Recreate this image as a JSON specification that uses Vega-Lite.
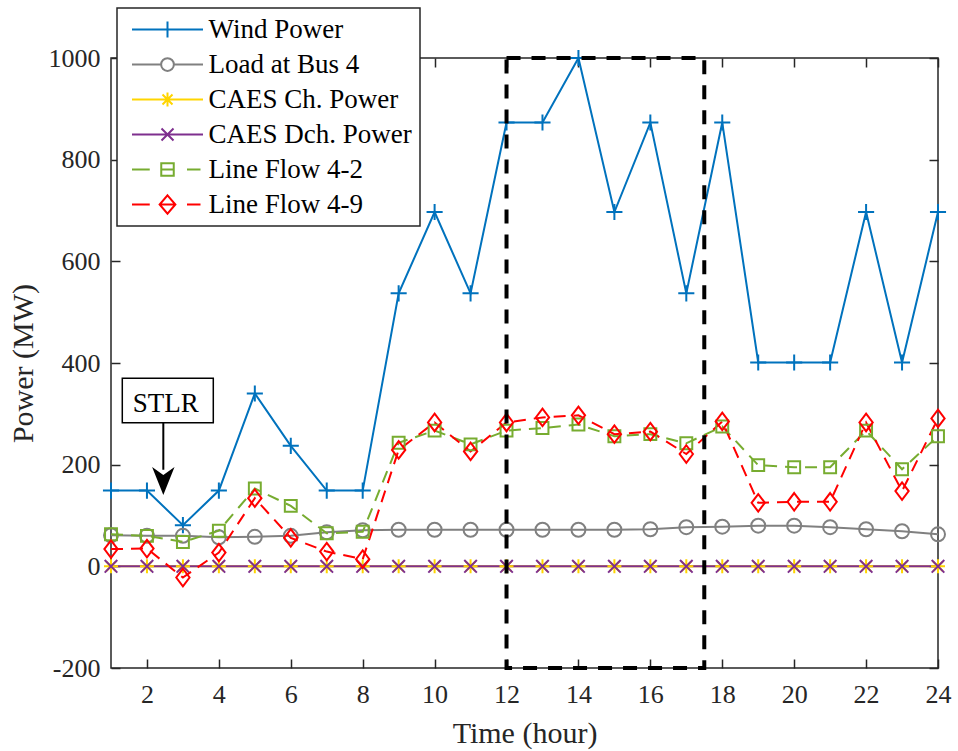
{
  "$schema": "https://vega.github.io/schema/vega-lite/v6.json",
  "width": 827,
  "height": 610,
  "autosize": {"type": "none"},
  "padding": {"left": 111, "top": 58, "right": 20, "bottom": 83},
  "background": "white",
  "config": {
    "font": "Liberation Serif",
    "view": {"stroke": "#262626", "strokeWidth": 1.5}
  },
  "datasets": {
    "series": [
      {"h":1,"s":"Wind Power","v":149},{"h":2,"s":"Wind Power","v":149},{"h":3,"s":"Wind Power","v":81},{"h":4,"s":"Wind Power","v":149},{"h":5,"s":"Wind Power","v":340},{"h":6,"s":"Wind Power","v":237},{"h":7,"s":"Wind Power","v":149},{"h":8,"s":"Wind Power","v":149},{"h":9,"s":"Wind Power","v":537},{"h":10,"s":"Wind Power","v":697},{"h":11,"s":"Wind Power","v":537},{"h":12,"s":"Wind Power","v":873},{"h":13,"s":"Wind Power","v":873},{"h":14,"s":"Wind Power","v":1000},{"h":15,"s":"Wind Power","v":697},{"h":16,"s":"Wind Power","v":873},{"h":17,"s":"Wind Power","v":537},{"h":18,"s":"Wind Power","v":873},{"h":19,"s":"Wind Power","v":401},{"h":20,"s":"Wind Power","v":401},{"h":21,"s":"Wind Power","v":401},{"h":22,"s":"Wind Power","v":697},{"h":23,"s":"Wind Power","v":401},{"h":24,"s":"Wind Power","v":697},
      {"h":1,"s":"Load at Bus 4","v":61},{"h":2,"s":"Load at Bus 4","v":60},{"h":3,"s":"Load at Bus 4","v":60},{"h":4,"s":"Load at Bus 4","v":57},{"h":5,"s":"Load at Bus 4","v":58},{"h":6,"s":"Load at Bus 4","v":60},{"h":7,"s":"Load at Bus 4","v":67},{"h":8,"s":"Load at Bus 4","v":71},{"h":9,"s":"Load at Bus 4","v":72},{"h":10,"s":"Load at Bus 4","v":72},{"h":11,"s":"Load at Bus 4","v":72},{"h":12,"s":"Load at Bus 4","v":72},{"h":13,"s":"Load at Bus 4","v":72},{"h":14,"s":"Load at Bus 4","v":72},{"h":15,"s":"Load at Bus 4","v":72},{"h":16,"s":"Load at Bus 4","v":73},{"h":17,"s":"Load at Bus 4","v":77},{"h":18,"s":"Load at Bus 4","v":78},{"h":19,"s":"Load at Bus 4","v":80},{"h":20,"s":"Load at Bus 4","v":80},{"h":21,"s":"Load at Bus 4","v":77},{"h":22,"s":"Load at Bus 4","v":73},{"h":23,"s":"Load at Bus 4","v":69},{"h":24,"s":"Load at Bus 4","v":63},
      {"h":1,"s":"CAES Ch. Power","v":0},{"h":2,"s":"CAES Ch. Power","v":0},{"h":3,"s":"CAES Ch. Power","v":0},{"h":4,"s":"CAES Ch. Power","v":0},{"h":5,"s":"CAES Ch. Power","v":0},{"h":6,"s":"CAES Ch. Power","v":0},{"h":7,"s":"CAES Ch. Power","v":0},{"h":8,"s":"CAES Ch. Power","v":0},{"h":9,"s":"CAES Ch. Power","v":0},{"h":10,"s":"CAES Ch. Power","v":0},{"h":11,"s":"CAES Ch. Power","v":0},{"h":12,"s":"CAES Ch. Power","v":0},{"h":13,"s":"CAES Ch. Power","v":0},{"h":14,"s":"CAES Ch. Power","v":0},{"h":15,"s":"CAES Ch. Power","v":0},{"h":16,"s":"CAES Ch. Power","v":0},{"h":17,"s":"CAES Ch. Power","v":0},{"h":18,"s":"CAES Ch. Power","v":0},{"h":19,"s":"CAES Ch. Power","v":0},{"h":20,"s":"CAES Ch. Power","v":0},{"h":21,"s":"CAES Ch. Power","v":0},{"h":22,"s":"CAES Ch. Power","v":0},{"h":23,"s":"CAES Ch. Power","v":0},{"h":24,"s":"CAES Ch. Power","v":0},
      {"h":1,"s":"CAES Dch. Power","v":0},{"h":2,"s":"CAES Dch. Power","v":0},{"h":3,"s":"CAES Dch. Power","v":0},{"h":4,"s":"CAES Dch. Power","v":0},{"h":5,"s":"CAES Dch. Power","v":0},{"h":6,"s":"CAES Dch. Power","v":0},{"h":7,"s":"CAES Dch. Power","v":0},{"h":8,"s":"CAES Dch. Power","v":0},{"h":9,"s":"CAES Dch. Power","v":0},{"h":10,"s":"CAES Dch. Power","v":0},{"h":11,"s":"CAES Dch. Power","v":0},{"h":12,"s":"CAES Dch. Power","v":0},{"h":13,"s":"CAES Dch. Power","v":0},{"h":14,"s":"CAES Dch. Power","v":0},{"h":15,"s":"CAES Dch. Power","v":0},{"h":16,"s":"CAES Dch. Power","v":0},{"h":17,"s":"CAES Dch. Power","v":0},{"h":18,"s":"CAES Dch. Power","v":0},{"h":19,"s":"CAES Dch. Power","v":0},{"h":20,"s":"CAES Dch. Power","v":0},{"h":21,"s":"CAES Dch. Power","v":0},{"h":22,"s":"CAES Dch. Power","v":0},{"h":23,"s":"CAES Dch. Power","v":0},{"h":24,"s":"CAES Dch. Power","v":0},
      {"h":1,"s":"Line Flow 4-2","v":63},{"h":2,"s":"Line Flow 4-2","v":60},{"h":3,"s":"Line Flow 4-2","v":48},{"h":4,"s":"Line Flow 4-2","v":70},{"h":5,"s":"Line Flow 4-2","v":153},{"h":6,"s":"Line Flow 4-2","v":119},{"h":7,"s":"Line Flow 4-2","v":65},{"h":8,"s":"Line Flow 4-2","v":68},{"h":9,"s":"Line Flow 4-2","v":243},{"h":10,"s":"Line Flow 4-2","v":267},{"h":11,"s":"Line Flow 4-2","v":240},{"h":12,"s":"Line Flow 4-2","v":267},{"h":13,"s":"Line Flow 4-2","v":272},{"h":14,"s":"Line Flow 4-2","v":279},{"h":15,"s":"Line Flow 4-2","v":256},{"h":16,"s":"Line Flow 4-2","v":260},{"h":17,"s":"Line Flow 4-2","v":242},{"h":18,"s":"Line Flow 4-2","v":275},{"h":19,"s":"Line Flow 4-2","v":199},{"h":20,"s":"Line Flow 4-2","v":195},{"h":21,"s":"Line Flow 4-2","v":195},{"h":22,"s":"Line Flow 4-2","v":267},{"h":23,"s":"Line Flow 4-2","v":191},{"h":24,"s":"Line Flow 4-2","v":256},
      {"h":1,"s":"Line Flow 4-9","v":34},{"h":2,"s":"Line Flow 4-9","v":35},{"h":3,"s":"Line Flow 4-9","v":-22},{"h":4,"s":"Line Flow 4-9","v":27},{"h":5,"s":"Line Flow 4-9","v":134},{"h":6,"s":"Line Flow 4-9","v":56},{"h":7,"s":"Line Flow 4-9","v":29},{"h":8,"s":"Line Flow 4-9","v":14},{"h":9,"s":"Line Flow 4-9","v":229},{"h":10,"s":"Line Flow 4-9","v":283},{"h":11,"s":"Line Flow 4-9","v":226},{"h":12,"s":"Line Flow 4-9","v":283},{"h":13,"s":"Line Flow 4-9","v":293},{"h":14,"s":"Line Flow 4-9","v":297},{"h":15,"s":"Line Flow 4-9","v":260},{"h":16,"s":"Line Flow 4-9","v":265},{"h":17,"s":"Line Flow 4-9","v":221},{"h":18,"s":"Line Flow 4-9","v":285},{"h":19,"s":"Line Flow 4-9","v":125},{"h":20,"s":"Line Flow 4-9","v":127},{"h":21,"s":"Line Flow 4-9","v":127},{"h":22,"s":"Line Flow 4-9","v":283},{"h":23,"s":"Line Flow 4-9","v":148},{"h":24,"s":"Line Flow 4-9","v":291}
    ],
    "box": [{"x1":12,"x2":17.5,"y1":-200,"y2":1000}],
    "label": [{"x1":1.314,"x2":3.845,"y1":282.6,"y2":369.9,"tx":2.52,"ty":304,"text":"STLR","ax":2.455,"ay1":282.6,"ay2":190,"hy":168}]
  },
  "layer": [
    {
      "data": {"name": "series"},
      "transform": [{"filter": {"field": "s", "oneOf": ["Wind Power","Load at Bus 4","CAES Ch. Power","CAES Dch. Power"]}}],
      "mark": {"type": "line", "strokeWidth": 2},
      "encoding": {
        "x": {"field": "h", "type": "quantitative",
          "scale": {"domain": [1, 24], "nice": false, "zero": false},
          "axis": {"orient": "bottom", "values": [2,4,6,8,10,12,14,16,18,20,22,24], "tickSize": -9, "tickWidth": 1.5, "tickColor": "#262626", "domain": false, "grid": false,
            "labelFont": "Liberation Serif", "labelFontSize": 26, "labelColor": "#262626", "labelPadding": 22.6, "labelFlush": false,
            "title": "Time (hour)", "titleFont": "Liberation Serif", "titleFontSize": 30, "titleFontWeight": "normal", "titleColor": "#262626", "titleBaseline": "alphabetic", "titleY": 74}},
        "y": {"field": "v", "type": "quantitative",
          "scale": {"domain": [-200, 1000], "nice": false, "zero": false},
          "axis": {"orient": "left", "values": [-200,0,200,400,600,800,1000], "labelExpr": "'' + datum.value", "tickSize": -9, "tickWidth": 1.5, "tickColor": "#262626", "domain": false, "grid": false,
            "labelFont": "Liberation Serif", "labelFontSize": 26, "labelColor": "#262626", "labelPadding": 20, "labelFlush": false,
            "title": "Power (MW)", "titleFont": "Liberation Serif", "titleFontSize": 30, "titleFontWeight": "normal", "titleColor": "#262626", "titleBaseline": "alphabetic", "titleAngle": -90, "titleX": -79, "titleY": 305, "titleAlign": "center"}},
        "color": {"field": "s", "type": "nominal",
          "scale": {"domain": ["Wind Power","Load at Bus 4","CAES Ch. Power","CAES Dch. Power","Line Flow 4-2","Line Flow 4-9"],
                    "range": ["#0072BD","#808080","#FFD500","#7E2F8E","#77AC30","#FF0000"]},
          "legend": {"title": null, "orient": "none", "legendX": 6, "legendY": -50, "direction": "vertical",
            "padding": 8, "fillColor": "white", "strokeColor": "#262626",
            "symbolSize": 625, "symbolStrokeWidth": 2, "symbolOffset": 29, "labelOffset": 27.5,
            "labelFont": "Liberation Serif", "labelFontSize": 27, "labelColor": "black", "labelLimit": 0, "rowPadding": 7,
            "encode": {
              "legend": {"update": {"strokeWidth": {"value": 1.5}}},
              "symbols": {"update": {
                "fill": {"value": "transparent"},
                "shape": {"signal": "datum.value === 'Wind Power' ? 'M-2.84,0H2.84M0,-0.64V0.64' : datum.value === 'Load at Bus 4' ? 'M-2.84,0H-0.51M0.51,0H2.84M0.51,0A0.51,0.51,0,1,1,-0.51,0A0.51,0.51,0,1,1,0.51,0' : datum.value === 'CAES Ch. Power' ? 'M-2.84,0H2.84M0,-0.56V0.56M-0.4,-0.4L0.4,0.4M-0.4,0.4L0.4,-0.4' : datum.value === 'CAES Dch. Power' ? 'M-2.84,0H2.84M-0.48,-0.48L0.48,0.48M-0.48,0.48L0.48,-0.48' : datum.value === 'Line Flow 4-2' ? 'M-2.84,0H-1.42M-0.5,0H0.5M1.56,0H2.64M-0.5,-0.5H0.5V0.5H-0.5Z' : 'M-2.84,0H-1.42M-0.63,0H0.63M1.56,0H2.64M0,-0.73L0.63,0L0,0.73L-0.63,0Z'"}
              }}
            }}}
      }
    },
    {
      "data": {"name": "series"},
      "transform": [{"filter": {"field": "s", "equal": "Wind Power"}}],
      "mark": {"type": "point", "filled": false, "strokeWidth": 2, "size": 196, "opacity": 1, "color": "#0072BD", "shape": "M-1.15,0H1.15M0,-1.15V1.15"},
      "encoding": {"x": {"field": "h", "type": "quantitative", "axis": null}, "y": {"field": "v", "type": "quantitative", "axis": null}}
    },
    {
      "data": {"name": "series"},
      "transform": [{"filter": {"field": "s", "equal": "Load at Bus 4"}}],
      "mark": {"type": "point", "filled": false, "strokeWidth": 2, "size": 196, "opacity": 1, "color": "#808080", "shape": "circle"},
      "encoding": {"x": {"field": "h", "type": "quantitative", "axis": null}, "y": {"field": "v", "type": "quantitative", "axis": null}}
    },
    {
      "data": {"name": "series"},
      "transform": [{"filter": {"field": "s", "equal": "CAES Ch. Power"}}],
      "mark": {"type": "point", "filled": false, "strokeWidth": 2, "size": 196, "opacity": 1, "color": "#FFD500", "shape": "M0,-1V1M-1,0H1M-0.7,-0.7L0.7,0.7M-0.7,0.7L0.7,-0.7"},
      "encoding": {"x": {"field": "h", "type": "quantitative", "axis": null}, "y": {"field": "v", "type": "quantitative", "axis": null}}
    },
    {
      "data": {"name": "series"},
      "transform": [{"filter": {"field": "s", "equal": "CAES Dch. Power"}}],
      "mark": {"type": "point", "filled": false, "strokeWidth": 2, "size": 196, "opacity": 1, "color": "#7E2F8E", "shape": "M-0.9,-0.9L0.9,0.9M-0.9,0.9L0.9,-0.9"},
      "encoding": {"x": {"field": "h", "type": "quantitative", "axis": null}, "y": {"field": "v", "type": "quantitative", "axis": null}}
    },
    {
      "data": {"name": "series"},
      "transform": [{"filter": {"field": "s", "oneOf": ["Line Flow 4-2","Line Flow 4-9"]}}],
      "mark": {"type": "line", "strokeWidth": 2, "strokeDash": [12, 8]},
      "encoding": {
        "x": {"field": "h", "type": "quantitative", "axis": null},
        "y": {"field": "v", "type": "quantitative", "axis": null},
        "color": {"field": "s", "type": "nominal"}
      }
    },
    {
      "data": {"name": "series"},
      "transform": [{"filter": {"field": "s", "equal": "Line Flow 4-2"}}],
      "mark": {"type": "point", "filled": false, "strokeWidth": 2, "size": 196, "opacity": 1, "color": "#77AC30", "shape": "M-0.85,-0.85H0.85V0.85H-0.85Z"},
      "encoding": {"x": {"field": "h", "type": "quantitative", "axis": null}, "y": {"field": "v", "type": "quantitative", "axis": null}}
    },
    {
      "data": {"name": "series"},
      "transform": [{"filter": {"field": "s", "equal": "Line Flow 4-9"}}],
      "mark": {"type": "point", "filled": false, "strokeWidth": 2, "size": 196, "opacity": 1, "color": "#FF0000", "shape": "M0,-1.25L0.95,0L0,1.25L-0.95,0Z"},
      "encoding": {"x": {"field": "h", "type": "quantitative", "axis": null}, "y": {"field": "v", "type": "quantitative", "axis": null}}
    },
    {
      "mark": {"type": "rule", "color": "#0000FF", "strokeWidth": 4, "strokeDash": [14, 6, 4, 6]},
      "encoding": {"y": {"datum": 140, "type": "quantitative", "axis": null}}
    },
    {
      "data": {"name": "box"},
      "mark": {"type": "rect", "fill": null, "fillOpacity": 0, "stroke": "black", "strokeWidth": 4, "strokeDash": [14, 11]},
      "encoding": {
        "x": {"field": "x1", "type": "quantitative",
          "axis": {"orient": "top", "values": [2,4,6,8,10,12,14,16,18,20,22,24], "tickSize": -9, "tickWidth": 1.5, "tickColor": "#262626", "domain": false, "grid": false, "labels": false, "title": null}},
        "x2": {"field": "x2"},
        "y": {"field": "y1", "type": "quantitative",
          "axis": {"orient": "right", "values": [-200,0,200,400,600,800,1000], "tickSize": -9, "tickWidth": 1.5, "tickColor": "#262626", "domain": false, "grid": false, "labels": false, "title": null}},
        "y2": {"field": "y2"}
      }
    },
    {
      "data": {"name": "label"},
      "mark": {"type": "rect", "fill": "white", "stroke": "black", "strokeWidth": 1.5},
      "encoding": {
        "x": {"field": "x1", "type": "quantitative", "axis": null},
        "x2": {"field": "x2"},
        "y": {"field": "y1", "type": "quantitative", "axis": null},
        "y2": {"field": "y2"}
      }
    },
    {
      "data": {"name": "label"},
      "mark": {"type": "text", "font": "Liberation Serif", "fontSize": 27, "color": "black", "align": "center", "baseline": "alphabetic"},
      "encoding": {
        "x": {"field": "tx", "type": "quantitative", "axis": null},
        "y": {"field": "ty", "type": "quantitative", "axis": null},
        "text": {"field": "text"}
      }
    },
    {
      "data": {"name": "label"},
      "mark": {"type": "rule", "color": "black", "strokeWidth": 2},
      "encoding": {
        "x": {"field": "ax", "type": "quantitative", "axis": null},
        "y": {"field": "ay1", "type": "quantitative", "axis": null},
        "y2": {"field": "ay2"}
      }
    },
    {
      "data": {"name": "label"},
      "mark": {"type": "point", "filled": true, "color": "black", "size": 784, "opacity": 1, "shape": "M0,1L-0.8,-1L0,-0.43L0.8,-1Z"},
      "encoding": {
        "x": {"field": "ax", "type": "quantitative", "axis": null},
        "y": {"field": "hy", "type": "quantitative", "axis": null}
      }
    }
  ],
  "resolve": {"axis": {"x": "independent", "y": "independent"}}
}
